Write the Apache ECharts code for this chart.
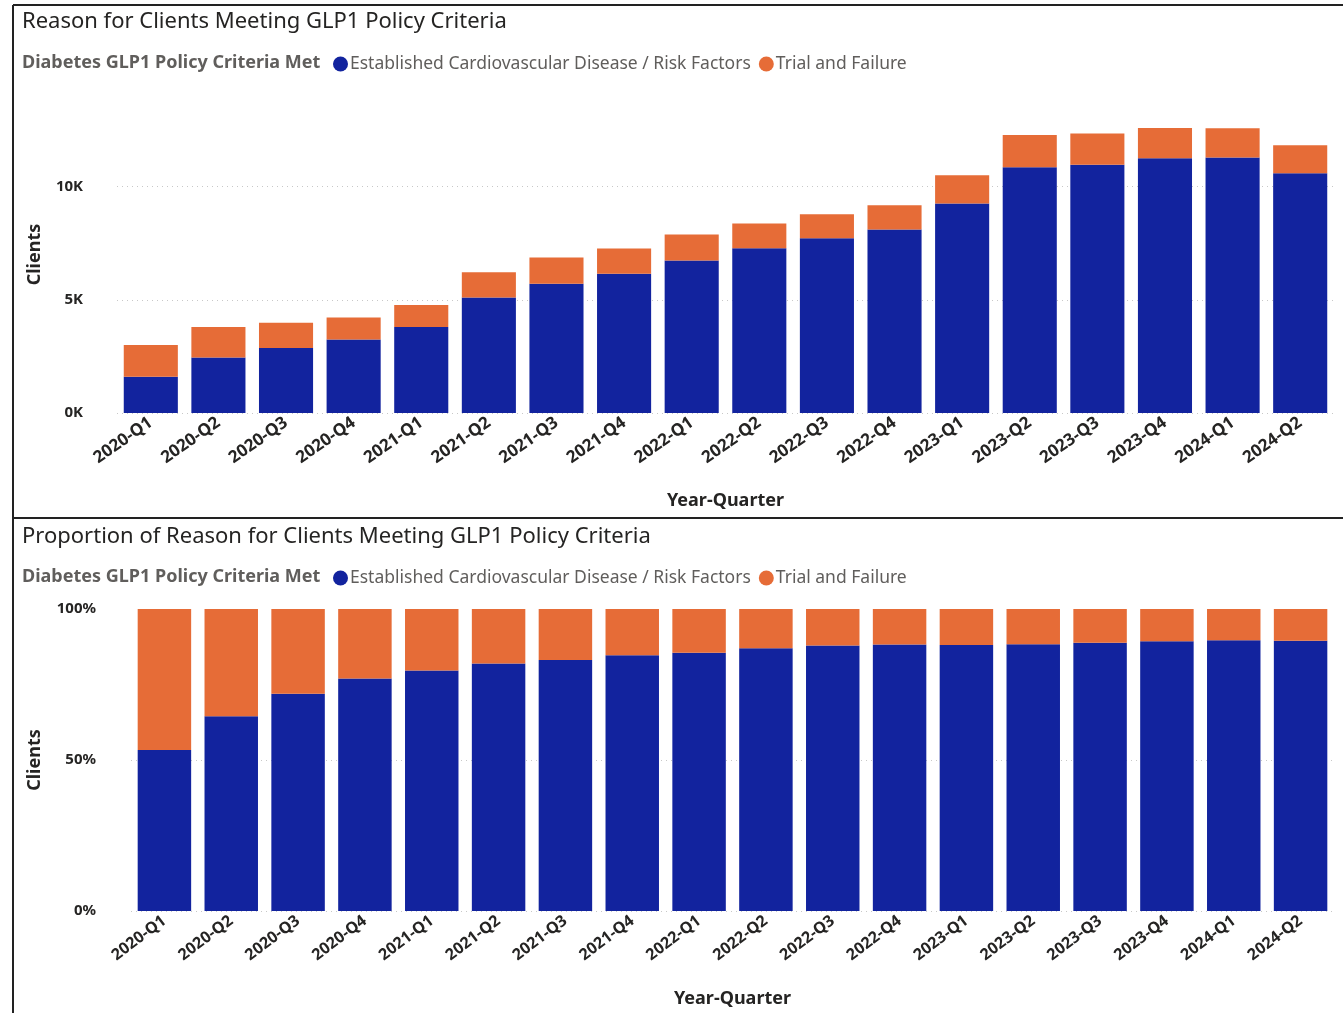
<!DOCTYPE html>
<html><head><meta charset="utf-8">
<script src="https://cdn.jsdelivr.net/npm/echarts@6/dist/echarts.min.js"></script>
<style>html,body{margin:0;padding:0;background:#fff}#c{width:1343px;height:1013px}</style>
</head><body><div id="c"></div>
<script>
const categories = ['2020-Q1','2020-Q2','2020-Q3','2020-Q4','2021-Q1','2021-Q2','2021-Q3','2021-Q4','2022-Q1','2022-Q2','2022-Q3','2022-Q4','2023-Q1','2023-Q2','2023-Q3','2023-Q4','2024-Q1','2024-Q2'];
const cardio = [1600,2450,2870,3250,3800,5100,5710,6150,6740,7280,7720,8100,9250,10850,10960,11250,11280,10590];
const trial = [1400,1350,1120,970,970,1120,1160,1110,1140,1090,1060,1080,1250,1430,1380,1340,1300,1240];
const seriesNames = ['Established Cardiovascular Disease / Risk Factors','Trial and Failure'];
const colors = ['#12239E','#E66C37'];

const totals = cardio.map((v,i)=>v+trial[i]);
const cardioPct = cardio.map((v,i)=>v/totals[i]*100);
const trialPct = trial.map((v,i)=>v/totals[i]*100);

const FONT = '"Noto Sans", "Open Sans", sans-serif';
const chart = echarts.init(document.getElementById('c'));
const gridLine = {show:true, showMaxLine:false, lineStyle:{type:[1,4], color:'#c8c8c8', width:1}};
function xAxis(gridIndex, rotate, size, gap){
  return {type:'category', gridIndex, data:categories, axisTick:{show:false}, axisLine:{show:false},
    axisLabel:{rotate, fontSize:size, fontWeight:'bold', color:'#252423', fontFamily:FONT, margin:8, interval:0},
    name:'Year-Quarter', nameLocation:'middle', nameGap:gap,
    nameTextStyle:{fontSize:18, fontWeight:'bold', color:'#252423', fontFamily:FONT}};
}
const titleStyle = {fontSize:22, fontWeight:'normal', color:'#252423', fontFamily:FONT};
const legTitleStyle = {fontSize:18, fontWeight:'bold', color:'#605E5C', fontFamily:FONT};
const legText = {fontSize:17.5, color:'#605E5C', fontFamily:FONT, padding:[0,0,0,-3]};
chart.setOption({
  animation:false,
  color:colors,
  title:[
    {text:'Reason for Clients Meeting GLP1 Policy Criteria', left:22, top:11, padding:0, textStyle:titleStyle},
    {text:'Diabetes GLP1 Policy Criteria Met', left:22, top:54, padding:0, textStyle:legTitleStyle},
    {text:'Proportion of Reason for Clients Meeting GLP1 Policy Criteria', left:22, top:526, padding:0, textStyle:titleStyle},
    {text:'Diabetes GLP1 Policy Criteria Met', left:22, top:568, padding:0, textStyle:legTitleStyle}
  ],
  legend:[
    {data:seriesNames, left:328, top:50, icon:'circle', itemWidth:15, itemHeight:15, itemGap:8, textStyle:legText},
    {data:seriesNames, left:328, top:564, icon:'circle', itemWidth:15, itemHeight:15, itemGap:8, textStyle:legText}
  ],
  grid:[
    {left:117, right:9, top:96, bottom:600},
    {left:131, right:9, top:609, bottom:102}
  ],
  xAxis:[xAxis(0,35,17,79), xAxis(1,37,16,79)],
  yAxis:[
    {type:'value', gridIndex:0, min:0, max:14000, interval:5000, splitLine:gridLine,
     axisLabel:{showMaxLabel:false, margin:34, fontSize:15, fontWeight:'bold', color:'#252423', fontFamily:FONT, formatter:v=>(v/1000)+'K'},
     name:'Clients', nameLocation:'middle', nameGap:73, nameTextStyle:{fontSize:18, fontWeight:'bold', color:'#252423', fontFamily:FONT}},
    {type:'value', gridIndex:1, min:0, max:100, interval:50, splitLine:gridLine,
     axisLabel:{margin:35, fontSize:15, fontWeight:'bold', color:'#252423', fontFamily:FONT, formatter:v=>v+'%'},
     name:'Clients', nameLocation:'middle', nameGap:87, nameTextStyle:{fontSize:18, fontWeight:'bold', color:'#252423', fontFamily:FONT}}
  ],
  series:[
    {name:seriesNames[0], type:'bar', stack:'a', xAxisIndex:0, yAxisIndex:0, data:cardio, barCategoryGap:'20%'},
    {name:seriesNames[1], type:'bar', stack:'a', xAxisIndex:0, yAxisIndex:0, data:trial, barCategoryGap:'20%'},
    {name:seriesNames[0], type:'bar', stack:'b', xAxisIndex:1, yAxisIndex:1, data:cardioPct, barCategoryGap:'20%'},
    {name:seriesNames[1], type:'bar', stack:'b', xAxisIndex:1, yAxisIndex:1, data:trialPct, barCategoryGap:'20%'}
  ],
  graphic:[
    {type:'line', shape:{x1:13, y1:5, x2:1343, y2:5}, style:{stroke:'#222', lineWidth:2}},
    {type:'line', shape:{x1:13, y1:5, x2:13, y2:1013}, style:{stroke:'#222', lineWidth:2}},
    {type:'line', shape:{x1:13, y1:518, x2:1343, y2:518}, style:{stroke:'#222', lineWidth:2}}
  ]
});
</script></body></html>
